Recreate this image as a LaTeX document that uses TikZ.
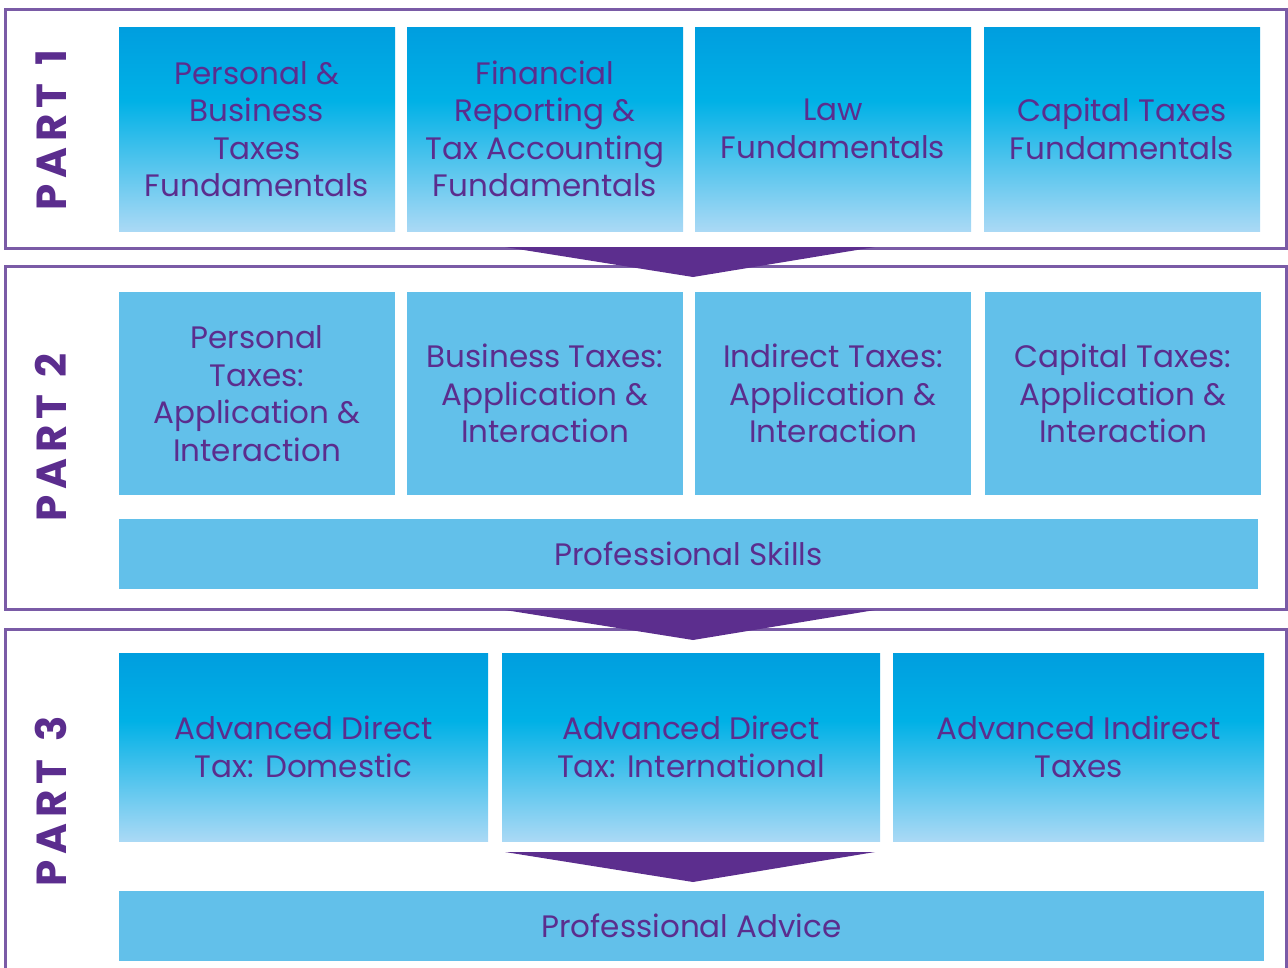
\documentclass[tikz,border=0pt]{standalone}
\usepackage{fontspec}
\setmainfont{Poppins}
\newfontfamily\partfam{Poppins}[LetterSpace=14]
\definecolor{txt}{RGB}{91,45,142}
\definecolor{framec}{RGB}{122,91,166}
\definecolor{arrowc}{RGB}{92,46,142}
\definecolor{gtop}{RGB}{0,158,223}
\definecolor{gmid}{RGB}{0,177,230}
\definecolor{gbot}{RGB}{170,217,245}
\definecolor{flat}{RGB}{98,192,234}
\pgfdeclareverticalshading{boxgrad}{100bp}{color(0bp)=(gbot); color(25bp)=(gbot); color(57bp)=(gmid); color(75bp)=(gtop); color(100bp)=(gtop)}
\tikzset{
  boxtext/.style={inner sep=0pt, outer sep=0pt, anchor=north west, text=txt, align=center,
    font=\fontsize{31}{37.5}\selectfont},
  gradbox/.style={boxtext, shade, shading=boxgrad, draw=none},
  flatbox/.style={boxtext, fill=flat, draw=none},
  frameline/.style={draw=framec, line width=3pt},
  tri/.style={fill=arrowc, draw=none},
  partlbl/.style={rotate=90, text=txt, inner sep=0pt, font=\partfam\bfseries\fontsize{42}{42}\selectfont}
}
\begin{document}
\begin{tikzpicture}[x=1pt,y=-1pt]
\useasboundingbox (0,0) rectangle (1288,967);
\clip (0,0) rectangle (1288,967);
% frames
\draw[frameline] (5,9) rectangle (1286,248);
\draw[frameline] (5,266) rectangle (1286,609);
\draw[frameline] (5,629) rectangle (1286,1000);
% part labels
\node[partlbl] (l1) at (51,130) {PART\ \kern3pt 1};
\node[partlbl] (l2) at (51,437.5) {PART\ \kern3pt 2};
\node[partlbl] (l3) at (51,801.5) {PART\ \kern3pt 3};
% part 1
\node[gradbox, minimum width=276pt, minimum height=204pt] (p1a) at (119,27) {Personal \&\\Business\\Taxes\\Fundamentals};
\node[gradbox, minimum width=276pt, minimum height=204pt] (p1b) at (407,27) {Financial\\Reporting \&\\Tax Accounting\\Fundamentals};
\node[gradbox, minimum width=276pt, minimum height=204pt] (p1c) at (695,27) {Law\\Fundamentals};
\node[gradbox, minimum width=276pt, minimum height=204pt] (p1d) at (984,27) {Capital Taxes\\Fundamentals};
% part 2
\node[flatbox, minimum width=276pt, minimum height=203pt] (p2a) at (119,292) {Personal\\Taxes:\\Application \&\\Interaction};
\node[flatbox, minimum width=276pt, minimum height=203pt] (p2b) at (407,292) {Business Taxes:\\Application \&\\Interaction};
\node[flatbox, minimum width=276pt, minimum height=203pt] (p2c) at (695,292) {Indirect Taxes:\\Application \&\\Interaction};
\node[flatbox, minimum width=276pt, minimum height=203pt] (p2d) at (985,292) {Capital Taxes:\\Application \&\\Interaction};
\node[flatbox, minimum width=1139pt, minimum height=70pt] (p2s) at (119,519) {Professional Skills};
% part 3
\node[gradbox, minimum width=369pt, minimum height=188pt] (p3a) at (119,653) {Advanced Direct\\Tax: Domestic};
\node[gradbox, minimum width=378pt, minimum height=188pt] (p3b) at (502,653) {Advanced Direct\\Tax: International};
\node[gradbox, minimum width=371pt, minimum height=188pt] (p3c) at (893,653) {Advanced Indirect\\Taxes};
\node[flatbox, minimum width=1145pt, minimum height=70pt] (p3s) at (119,891) {Professional Advice};
% arrows
\fill[tri] (505,247) -- (875,247) -- (693,277) -- cycle;
\fill[tri] (505,610) -- (875,610) -- (693,640) -- cycle;
\fill[tri] (505,852) -- (875,852) -- (693,882) -- cycle;
\end{tikzpicture}
\end{document}
